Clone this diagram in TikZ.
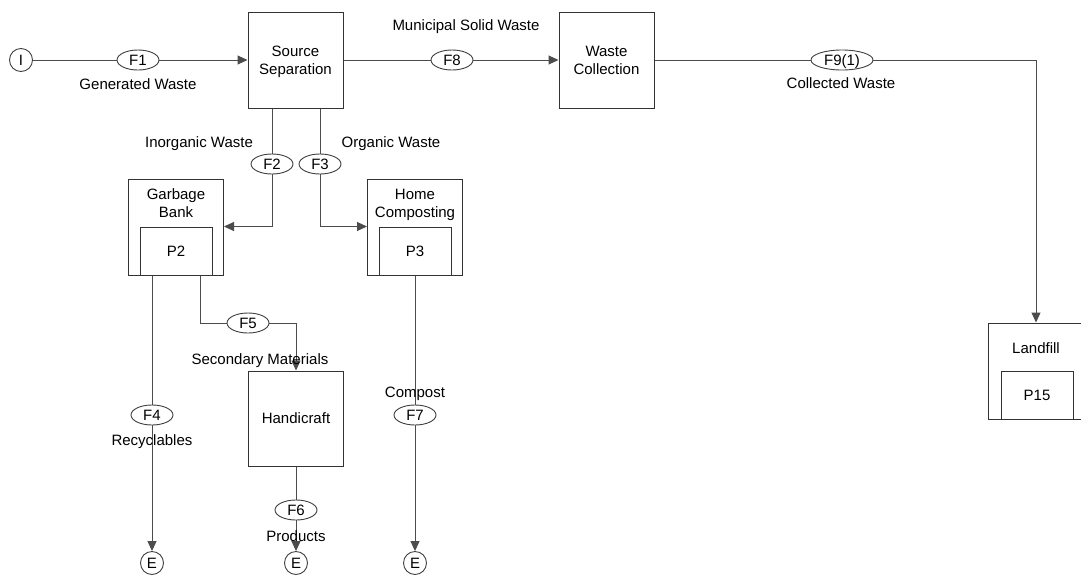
\documentclass[tikz,border=0pt]{standalone}
\usepackage{fontspec}
\setmainfont{Liberation Sans}
\usetikzlibrary{shapes.geometric,arrows.meta}
\begin{document}
\begin{tikzpicture}[x=1pt,y=-1pt,
  every node/.style={font=\fontsize{15}{18}\selectfont, text=black, inner sep=0pt, text depth=0pt},
  proc/.style={draw=black!80, line width=1pt, rectangle, minimum width=95pt, minimum height=96pt, align=center},
  inbox/.style={draw=black!80, line width=1pt, rectangle, minimum width=72pt, minimum height=48pt},
  flowtag/.style={draw=black!75, line width=0.9pt, ellipse, fill=white, minimum width=42pt, minimum height=20pt},
  term/.style={draw=black!75, line width=0.9pt, circle, minimum size=23pt},
  flow/.style={draw=black!70, line width=1pt},
  arr/.style={flow, -{Triangle[length=10pt,width=9pt]}},
  lbl/.style={align=center}
]
\useasboundingbox (0,0) rectangle (1081,574);

% process boxes
\node[proc] (ss) at (295.5,60) {Source\\Separation};
\node[proc] (wc) at (606.5,60) {Waste\\Collection};
\node[proc] (gb) at (176,227) {};
\node[lbl] (gbl) at (176,203) {Garbage\\Bank};
\node[inbox] (gbin) at (176,251) {P2};
\node[proc] (hc) at (415,227) {};
\node[lbl] (hcl) at (415,203) {Home\\Composting};
\node[inbox] (hcin) at (415,251) {P3};
\node[proc, minimum height=95pt] (hand) at (296,418.5) {Handicraft};
\node[proc, minimum width=96pt] (lf) at (1036,371) {};
\node[lbl] (lfl) at (1036,348) {Landfill};
\node[inbox] (lfin) at (1037,395) {P15};

% terminals
\node[term] (I) at (21,60) {I};
\node[term] (E1) at (152,563) {E};
\node[term] (E2) at (296,563) {E};
\node[term] (E3) at (415,563) {E};

% flow tags
\node[flowtag] (f1) at (138,60) {F1};
\node[flowtag] (f8) at (452,60) {F8};
\node[flowtag, minimum width=62pt] (f9) at (842,60) {F9(1)};
\node[flowtag] (f2) at (272,164) {F2};
\node[flowtag] (f3) at (320,164) {F3};
\node[flowtag] (f4) at (152,415) {F4};
\node[flowtag] (f5) at (248,323) {F5};
\node[flowtag] (f6) at (296,510) {F6};
\node[flowtag] (f7) at (415,415) {F7};
\coordinate (f5a) at (200,323);

% connectors
\draw[flow] (I) -- (f1);
\draw[arr] (f1) -- (ss);
\draw[flow] (ss) -- (f8);
\draw[arr] (f8) -- (wc);
\draw[flow] (wc) -- (f9);
\draw[arr] (f9) -| (lf.north);
\draw[flow] (ss.south -| f2) -- (f2);
\draw[arr] (f2) |- (gb.east |- gbin.north);
\draw[flow] (ss.south -| f3) -- (f3);
\draw[arr] (f3) |- (hc.west |- hcin.north);
\draw[flow] (gb.south -| f4) -- (f4);
\draw[arr] (f4) -- (E1);
\draw[flow] (gb.south -| f5a) -- (f5a) -- (f5);
\draw[arr] (f5) -| (hand.north);
\draw[flow] (hand) -- (f6);
\draw[arr] (f6) -- (E2);
\draw[flow] (hc.south) -- (f7);
\draw[arr] (f7) -- (E3);

% flow labels
\node (l1) at (138,84) {Generated Waste};
\node (l8) at (466,25) {Municipal Solid Waste};
\node (l9) at (841,83) {Collected Waste};
\node (l2) at (199,142) {Inorganic Waste};
\node (l3) at (391,142) {Organic Waste};
\node (l5) at (260,359) {Secondary Materials};
\node (l4) at (152,440) {Recyclables};
\node (l7) at (415,392) {Compost};
\node (l6) at (296,536) {Products};
\end{tikzpicture}
\end{document}
